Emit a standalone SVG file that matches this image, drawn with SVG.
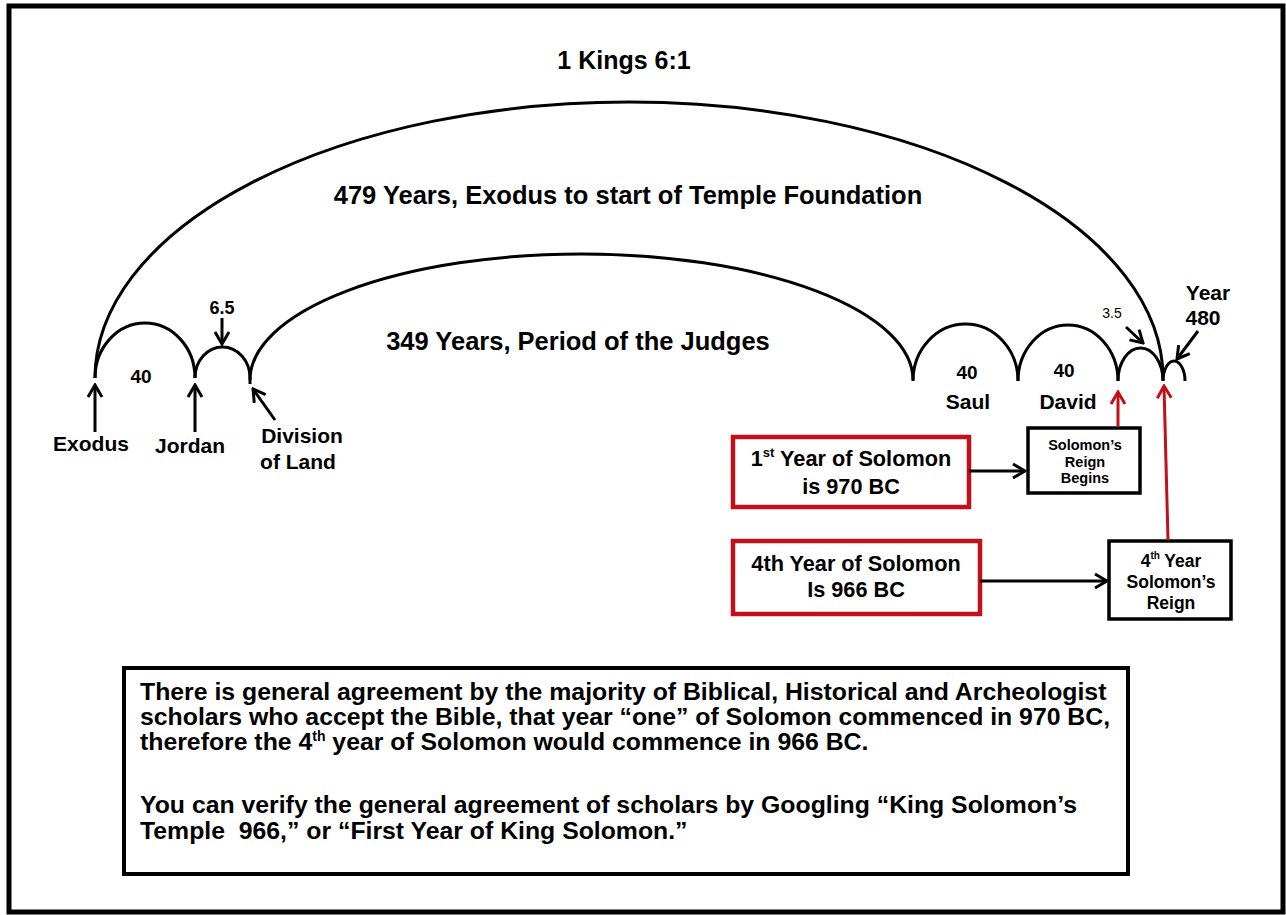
<svg xmlns="http://www.w3.org/2000/svg" width="1286" height="915" viewBox="0 0 1286 915">
<defs>
<style>
text{font-family:"Liberation Sans",Arial,sans-serif;fill:#000;font-weight:bold;text-anchor:middle}
.arc{fill:none;stroke:#000;stroke-width:3}
.ar{fill:none;stroke:#000;stroke-width:3}
.rar{fill:none;stroke:#c0101a;stroke-width:3}
.rbox{fill:#fff;stroke:#c0101a;stroke-width:4.5}
.bbox{fill:#fff;stroke:#000;stroke-width:3.5}
.lbl{font-size:21px}
.big{font-size:25.5px}
.red{font-size:21.7px}
.body{font-size:24.8px;text-anchor:start}
</style>
<marker id="ah" viewBox="-14 -9 16 18" refX="0" refY="0" markerWidth="16" markerHeight="18" markerUnits="userSpaceOnUse" orient="auto">
<path d="M-12,-7 L0,0 L-12,7" fill="none" stroke="#000" stroke-width="3"/>
</marker>
<marker id="rah" viewBox="-14 -9 16 18" refX="0" refY="0" markerWidth="16" markerHeight="18" markerUnits="userSpaceOnUse" orient="auto">
<path d="M-12,-7 L0,0 L-12,7" fill="none" stroke="#c0101a" stroke-width="3"/>
</marker>
</defs>
<rect x="0" y="0" width="1286" height="915" fill="#fff"/>
<rect id="frame" x="9" y="6" width="1274" height="906" fill="none" stroke="#000" stroke-width="5"/>

<g id="arcs">
<path class="arc" d="M95,378 A534,276 0 0 1 1163,378"/>
<path class="arc" d="M95,378 A50,55 0 0 1 195,378"/>
<path class="arc" d="M195,378 A27.5,31 0 0 1 250,378 L250,384"/>
<path class="arc" d="M250,380 A331.5,126 0 0 1 913,380"/>
<path class="arc" d="M913,381 A52.5,57 0 0 1 1018,381"/>
<path class="arc" d="M1018,381 A50,56 0 0 1 1118,381"/>
<path class="arc" d="M1118,381 A22.5,33 0 0 1 1163,381"/>
<path class="arc" d="M1163,381 A11,20 0 0 1 1185,381"/>
</g>

<g id="title"><text x="624" y="69" style="font-size:25px">1 Kings 6:1</text></g>
<g id="span479"><text class="big" x="628" y="204">479 Years, Exodus to start of Temple Foundation</text></g>
<g id="span349"><text class="big" x="578" y="350">349 Years, Period of the Judges</text></g>

<g id="exodus"><text class="lbl" x="91" y="451">Exodus</text></g>
<g id="jordan"><text class="lbl" x="190" y="453">Jordan</text></g>
<g id="division"><text class="lbl" x="302" y="443">Division</text><text class="lbl" x="298" y="469">of Land</text></g>
<g id="y40a"><text class="lbl" x="141" y="383" style="font-size:19px">40</text></g>
<g id="y65"><text x="222" y="314" style="font-size:18px">6.5</text></g>
<g id="saul"><text class="lbl" x="967" y="379" style="font-size:19px">40</text><text class="lbl" x="968" y="409">Saul</text></g>
<g id="david"><text class="lbl" x="1064" y="377" style="font-size:19px">40</text><text class="lbl" x="1068" y="409">David</text></g>
<g id="y35"><text x="1112" y="318" style="font-size:14px;font-weight:normal">3.5</text></g>
<g id="y480"><text class="lbl" x="1208" y="300">Year</text><text class="lbl" x="1203" y="325">480</text></g>

<g id="box1">
<rect class="rbox" x="733" y="437" width="236" height="70"/>
<text class="red" x="851" y="466">1<tspan font-size="13" dy="-9">st</tspan><tspan dy="9"> Year of Solomon</tspan></text>
<text class="red" x="851" y="494">is 970 BC</text>
</g>
<g id="box2">
<rect class="rbox" x="733" y="541" width="247" height="73"/>
<text class="red" x="856" y="571">4th Year of Solomon</text>
<text class="red" x="856" y="597">Is 966 BC</text>
</g>
<g id="box3">
<rect class="bbox" x="1028" y="428" width="112" height="65"/>
<text x="1085" y="450" style="font-size:14.5px">Solomon’s</text>
<text x="1085" y="467" style="font-size:14.5px">Reign</text>
<text x="1085" y="483" style="font-size:14.5px">Begins</text>
</g>
<g id="box4">
<rect class="bbox" x="1109" y="541" width="122" height="78"/>
<text x="1171" y="567" style="font-size:17.5px">4<tspan font-size="10" dy="-8">th</tspan><tspan dy="8"> Year</tspan></text>
<text x="1171" y="588" style="font-size:17.5px">Solomon’s</text>
<text x="1171" y="609" style="font-size:17.5px">Reign</text>
</g>

<g id="note">
<rect x="124" y="668" width="1004" height="206" fill="#fff" stroke="#000" stroke-width="4"/>
<text class="body" x="140" y="700">There is general agreement by the majority of Biblical, Historical and Archeologist</text>
<text class="body" x="140" y="725">scholars who accept the Bible, that year “one” of Solomon commenced in 970 BC,</text>
<text class="body" x="140" y="750">therefore the 4<tspan font-size="14" dy="-9">th</tspan><tspan dy="9"> year of Solomon would commence in 966 BC.</tspan></text>
<text class="body" x="140" y="813">You can verify the general agreement of scholars by Googling “King Solomon’s</text>
<text class="body" x="140" y="839" xml:space="preserve">Temple  966,” or “First Year of King Solomon.”</text>
</g>

<g id="connectors">
<line class="ar" x1="95" y1="432" x2="95" y2="385" marker-end="url(#ah)"/>
<line class="ar" x1="195" y1="432" x2="195" y2="385" marker-end="url(#ah)"/>
<line class="ar" x1="275" y1="420" x2="253" y2="389" marker-end="url(#ah)"/>
<line class="ar" x1="222" y1="318" x2="222" y2="344" marker-end="url(#ah)"/>
<line class="ar" x1="1126" y1="327" x2="1143" y2="343" marker-end="url(#ah)"/>
<line class="ar" x1="1198" y1="331" x2="1177" y2="359" marker-end="url(#ah)"/>
<line class="ar" x1="969" y1="471" x2="1025" y2="471" marker-end="url(#ah)"/>
<line class="ar" x1="980" y1="581" x2="1107" y2="581" marker-end="url(#ah)"/>
<line class="rar" x1="1118" y1="427" x2="1118" y2="392" marker-end="url(#rah)"/>
<line class="rar" x1="1168" y1="540" x2="1164" y2="386" marker-end="url(#rah)"/>
</g>
</svg>
